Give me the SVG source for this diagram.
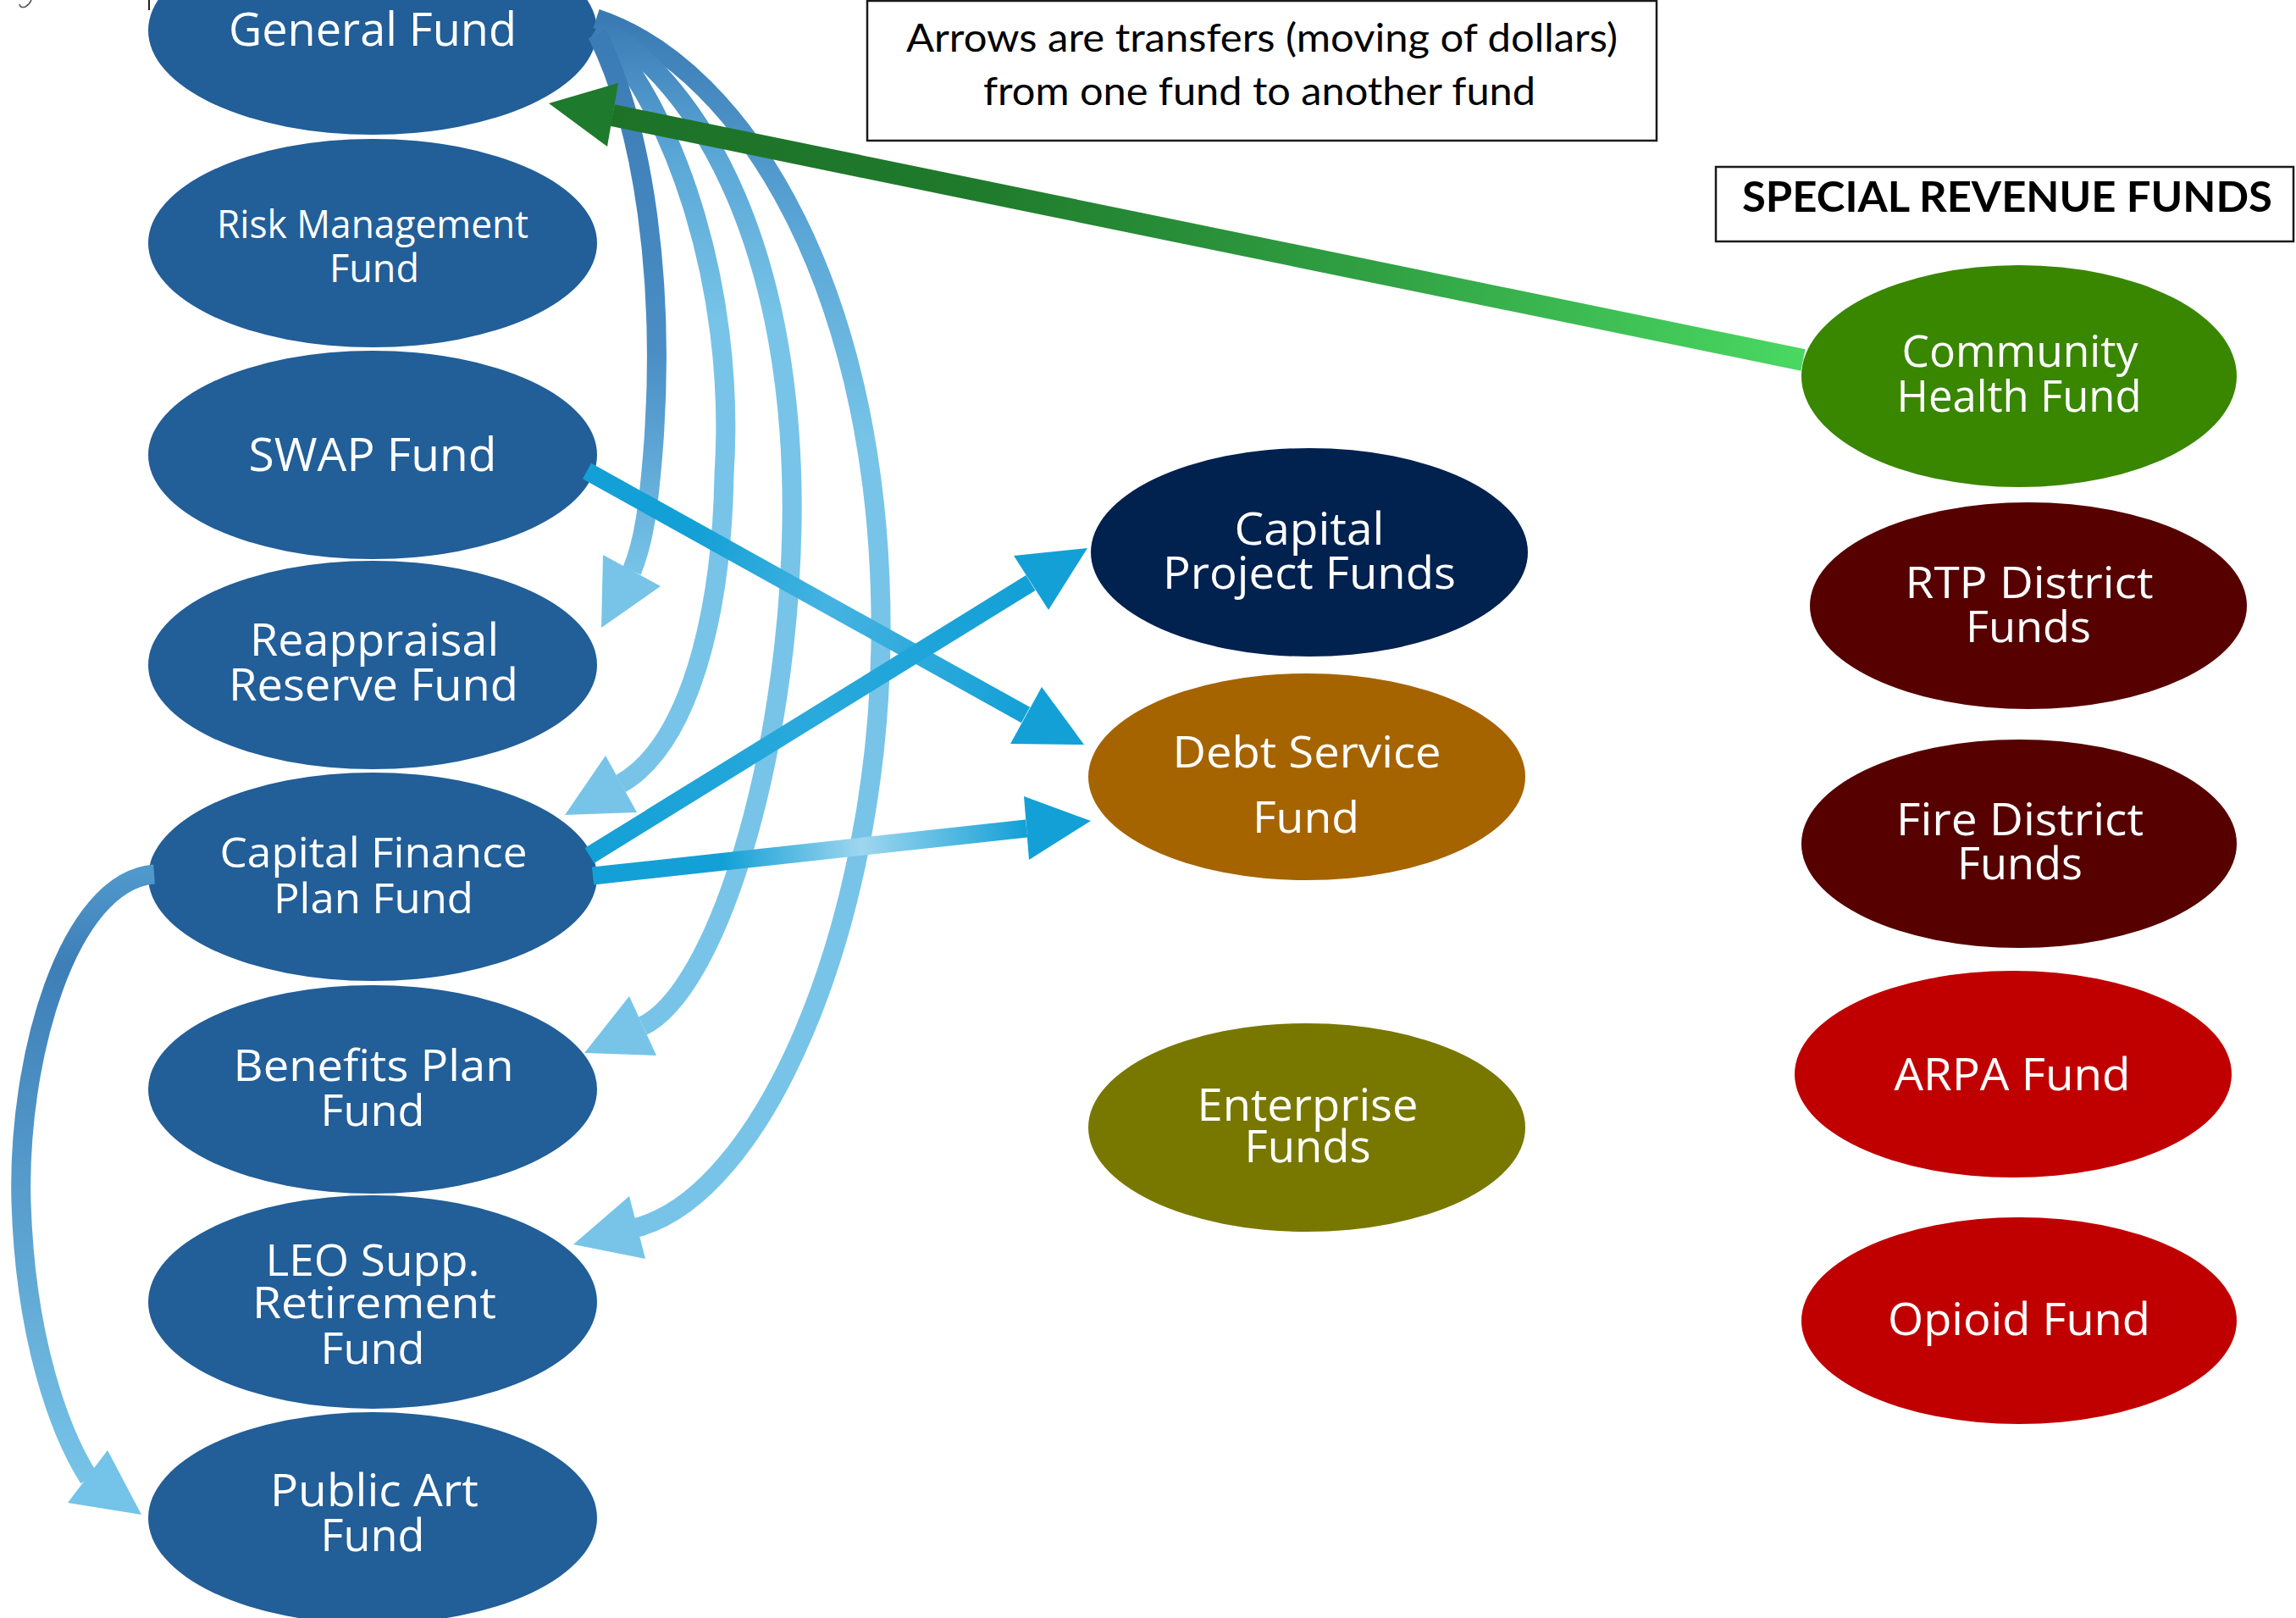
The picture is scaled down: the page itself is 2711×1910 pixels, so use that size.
<svg xmlns="http://www.w3.org/2000/svg" width="2711" height="1910" viewBox="0 0 2711 1910">
<style>
.nt{fill:#fff;font-family:"Open Sans","Noto Sans",sans-serif;text-anchor:middle}
.bt{fill:#000;font-family:Lato,"Liberation Sans",sans-serif;text-anchor:middle}
.blue{fill:#225e98}
.arc{fill:none;stroke-width:23;stroke-linecap:butt}
.str{fill:none;stroke-width:21}
.hl{fill:#77c4e8}
.hb{fill:#13a0d6}
.box{fill:#fff;stroke:#1a1a1a;stroke-width:2.5}
</style>
<defs>
<linearGradient id="gArc" gradientUnits="userSpaceOnUse" x1="0" y1="20" x2="0" y2="380">
<stop offset="0" stop-color="#3a7ab4"/><stop offset="0.45" stop-color="#5aa6d6"/><stop offset="1" stop-color="#77c4e8"/>
</linearGradient>
<linearGradient id="gArc4" gradientUnits="userSpaceOnUse" x1="0" y1="20" x2="0" y2="520">
<stop offset="0" stop-color="#3a7ab4"/><stop offset="0.5" stop-color="#5aa6d6"/><stop offset="1" stop-color="#77c4e8"/>
</linearGradient>
<linearGradient id="gArc1" gradientUnits="userSpaceOnUse" x1="0" y1="20" x2="0" y2="680">
<stop offset="0" stop-color="#3a7ab4"/><stop offset="0.6" stop-color="#4a8ec5"/><stop offset="1" stop-color="#77c4e8"/>
</linearGradient>
<linearGradient id="gLoop" gradientUnits="userSpaceOnUse" x1="0" y1="1030" x2="0" y2="1750">
<stop offset="0" stop-color="#5099cc"/><stop offset="0.15" stop-color="#3d7eb7"/><stop offset="1" stop-color="#77c4e8"/>
</linearGradient>
<linearGradient id="gSwap" gradientUnits="userSpaceOnUse" x1="693" y1="556" x2="1211" y2="844">
<stop offset="0" stop-color="#13a0d6"/><stop offset="0.25" stop-color="#13a0d6"/><stop offset="0.55" stop-color="#45b3e1"/><stop offset="1" stop-color="#13a0d6"/>
</linearGradient>
<linearGradient id="gCF1" gradientUnits="userSpaceOnUse" x1="696" y1="1010" x2="1217" y2="688">
<stop offset="0" stop-color="#13a0d6"/><stop offset="0.5" stop-color="#2aa9dc"/><stop offset="1" stop-color="#13a0d6"/>
</linearGradient>
<linearGradient id="gCF2" gradientUnits="userSpaceOnUse" x1="700" y1="1034" x2="1212" y2="978">
<stop offset="0" stop-color="#13a0d6"/><stop offset="0.3" stop-color="#13a0d6"/><stop offset="0.62" stop-color="#9fd6ef"/><stop offset="1" stop-color="#13a0d6"/>
</linearGradient>
<linearGradient id="gGreen" gradientUnits="userSpaceOnUse" x1="723" y1="136" x2="2129" y2="425">
<stop offset="0" stop-color="#1d7228"/><stop offset="0.3" stop-color="#1f7a2c"/><stop offset="0.65" stop-color="#31a244"/><stop offset="1" stop-color="#4ad862"/>
</linearGradient>
</defs>
<rect width="2711" height="1910" fill="#fff"/>
<path d="M 23 5 Q 24 10 30 8 Q 35 5 37 0" fill="none" stroke="#555" stroke-width="1.6"/>
<line x1="176" y1="0" x2="176" y2="12" stroke="#222" stroke-width="2"/>

<g id="note-arrows">
<rect class="box" x="1024" y="1" width="932" height="165"/>
<text class="bt" x="1490" y="61" font-size="46" textLength="840" lengthAdjust="spacingAndGlyphs">Arrows are transfers (moving of dollars)</text>
<text class="bt" x="1487" y="124" font-size="46" textLength="652" lengthAdjust="spacingAndGlyphs">from one fund to another fund</text>
</g>
<g id="label-special">
<rect class="box" x="2026" y="197" width="682" height="88"/>
<text class="bt" x="2370" y="250" font-size="50" font-weight="bold" textLength="626" lengthAdjust="spacingAndGlyphs">SPECIAL REVENUE FUNDS</text>
</g>

<g id="n-general"><ellipse class="blue" cx="440" cy="36" rx="265" ry="123"/>
<text class="nt" x="440" y="54" font-size="55" textLength="340" lengthAdjust="spacingAndGlyphs">General Fund</text></g>
<g id="n-risk"><ellipse class="blue" cx="440" cy="287" rx="265" ry="123"/>
<text class="nt" x="440" y="281" font-size="45" textLength="368" lengthAdjust="spacingAndGlyphs">Risk Management</text>
<text class="nt" x="442" y="333" font-size="45" textLength="106" lengthAdjust="spacingAndGlyphs">Fund</text></g>
<g id="n-swap"><ellipse class="blue" cx="440" cy="537" rx="265" ry="123"/>
<text class="nt" x="440" y="556" font-size="54" textLength="293" lengthAdjust="spacingAndGlyphs">SWAP Fund</text></g>
<g id="n-reappraisal"><ellipse class="blue" cx="440" cy="785" rx="265" ry="123"/>
<text class="nt" x="442" y="774" font-size="53" textLength="294" lengthAdjust="spacingAndGlyphs">Reappraisal</text>
<text class="nt" x="441" y="827" font-size="53" textLength="342" lengthAdjust="spacingAndGlyphs">Reserve Fund</text></g>
<g id="n-capfin"><ellipse class="blue" cx="440" cy="1035" rx="265" ry="123"/>
<text class="nt" x="441" y="1024" font-size="49" textLength="363" lengthAdjust="spacingAndGlyphs">Capital Finance</text>
<text class="nt" x="441" y="1078" font-size="49" textLength="236" lengthAdjust="spacingAndGlyphs">Plan Fund</text></g>
<g id="n-benefits"><ellipse class="blue" cx="440" cy="1286" rx="265" ry="123"/>
<text class="nt" x="441" y="1276" font-size="52" textLength="331" lengthAdjust="spacingAndGlyphs">Benefits Plan</text>
<text class="nt" x="440" y="1329" font-size="52" textLength="123" lengthAdjust="spacingAndGlyphs">Fund</text></g>
<g id="n-leo"><ellipse class="blue" cx="440" cy="1537" rx="265" ry="126"/>
<text class="nt" x="440" y="1506" font-size="52" textLength="253" lengthAdjust="spacingAndGlyphs">LEO Supp.</text>
<text class="nt" x="442" y="1556" font-size="52" textLength="288" lengthAdjust="spacingAndGlyphs">Retirement</text>
<text class="nt" x="440" y="1610" font-size="52" textLength="123" lengthAdjust="spacingAndGlyphs">Fund</text></g>
<g id="n-publicart"><ellipse class="blue" cx="440" cy="1792" rx="265" ry="125"/>
<text class="nt" x="442" y="1778" font-size="53" textLength="246" lengthAdjust="spacingAndGlyphs">Public Art</text>
<text class="nt" x="440" y="1831" font-size="53" textLength="123" lengthAdjust="spacingAndGlyphs">Fund</text></g>

<g id="n-capproj"><ellipse cx="1546" cy="652" rx="258" ry="123" fill="#01214f"/>
<text class="nt" x="1546" y="643" font-size="53" textLength="177" lengthAdjust="spacingAndGlyphs">Capital</text>
<text class="nt" x="1546" y="695" font-size="53" textLength="346" lengthAdjust="spacingAndGlyphs">Project Funds</text></g>
<g id="n-debt"><ellipse cx="1543" cy="917" rx="258" ry="122" fill="#a56400"/>
<text class="nt" x="1543" y="906" font-size="52" textLength="317" lengthAdjust="spacingAndGlyphs">Debt Service</text>
<text class="nt" x="1542" y="983" font-size="52" textLength="126" lengthAdjust="spacingAndGlyphs">Fund</text></g>
<g id="n-enterprise"><ellipse cx="1543" cy="1331" rx="258" ry="123" fill="#787800"/>
<text class="nt" x="1544" y="1323" font-size="53" textLength="261" lengthAdjust="spacingAndGlyphs">Enterprise</text>
<text class="nt" x="1544" y="1372" font-size="53" textLength="149" lengthAdjust="spacingAndGlyphs">Funds</text></g>

<g id="n-community"><ellipse cx="2384" cy="444" rx="257" ry="131" fill="#398600"/>
<text class="nt" x="2385" y="433" font-size="51" textLength="279" lengthAdjust="spacingAndGlyphs">Community</text>
<text class="nt" x="2384" y="486" font-size="51" textLength="289" lengthAdjust="spacingAndGlyphs">Health Fund</text></g>
<g id="n-rtp"><ellipse cx="2395" cy="715" rx="258" ry="122" fill="#560000"/>
<text class="nt" x="2396" y="706" font-size="52" textLength="293" lengthAdjust="spacingAndGlyphs">RTP District</text>
<text class="nt" x="2395" y="758" font-size="52" textLength="148" lengthAdjust="spacingAndGlyphs">Funds</text></g>
<g id="n-fire"><ellipse cx="2384" cy="996" rx="257" ry="123" fill="#560000"/>
<text class="nt" x="2385" y="986" font-size="53" textLength="292" lengthAdjust="spacingAndGlyphs">Fire District</text>
<text class="nt" x="2385" y="1038" font-size="53" textLength="148" lengthAdjust="spacingAndGlyphs">Funds</text></g>
<g id="n-arpa"><ellipse cx="2377" cy="1268" rx="258" ry="122" fill="#c00000"/>
<text class="nt" x="2376" y="1287" font-size="53" textLength="279" lengthAdjust="spacingAndGlyphs">ARPA Fund</text></g>
<g id="n-opioid"><ellipse cx="2384" cy="1559" rx="257" ry="122" fill="#c00000"/>
<text class="nt" x="2384" y="1576" font-size="53" textLength="310" lengthAdjust="spacingAndGlyphs">Opioid Fund</text></g>

<g id="connectors">
<path class="arc" stroke="url(#gArc4)" d="M 704 22 C 880 80, 1045 350, 1040 760 C 1035 1100, 900 1410, 752 1449"/>
<polygon class="hl" points="743,1412 762,1486 677,1469"/>
<path class="arc" stroke="url(#gArc)" d="M 706 30 C 830 100, 940 300, 935 620 C 930 900, 845 1170, 759 1211"/>
<polygon class="hl" points="743,1176 775,1246 690,1243"/>
<path class="arc" stroke="url(#gArc)" d="M 706 35 C 790 120, 870 330, 855 560 C 852 730, 812 880, 733 925"/>
<polygon class="hl" points="715,892 752,959 667,962"/>
<path class="arc" stroke="url(#gArc1)" d="M 705 40 C 760 150, 785 330, 772 520 C 766 600, 760 640, 746 674"/>
<polygon class="hl" points="712,655 780,692 710,741"/>
<path class="arc" stroke="url(#gLoop)" stroke-width="24" d="M 182 1032 C 80 1040, 20 1250, 25 1420 C 30 1580, 70 1690, 105 1745"/>
<polygon fill="#74c3e8" points="80,1774 127,1712 167,1788"/>
<path class="str" stroke="url(#gSwap)" d="M 693 556 L 1211 844"/>
<polygon class="hb" points="1230,811 1280,879 1193,878"/>
<path class="str" stroke="url(#gCF2)" d="M 700 1034 L 1212 978"/>
<polygon class="hb" points="1209,940 1288,969 1215,1015"/>
<path class="str" stroke="url(#gCF1)" d="M 696 1010 L 1217 688"/>
<polygon class="hb" points="1197,656 1284,647 1238,720"/>
<path fill="none" stroke="url(#gGreen)" stroke-width="26" d="M 2129 425 L 723 136"/>
<polygon fill="#1e7a2c" points="730,98 648,122 717,173"/>
</g>
</svg>
